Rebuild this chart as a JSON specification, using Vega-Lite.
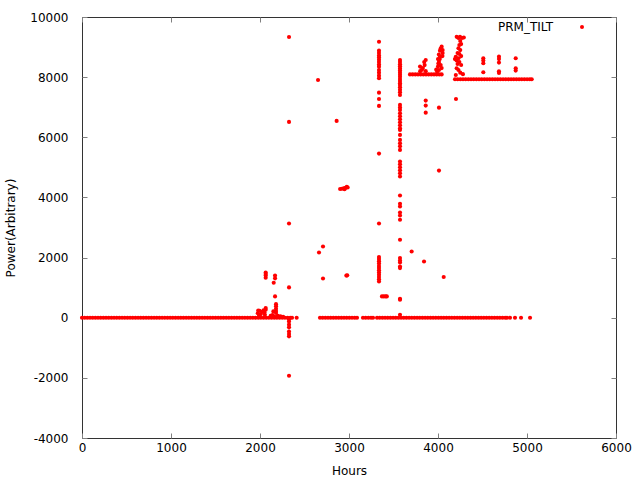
{
"$schema": "https://vega.github.io/schema/vega-lite/v6.json",
"width": 534, "height": 421,
"autosize": {"type": "none"},
"padding": {"left": 82, "top": 17, "right": 24, "bottom": 42},
"background": "white",
"config": {
 "view": {"stroke": "#333333", "strokeWidth": 1},
 "font": "DejaVu Sans",
 "axis": {"domain": false, "grid": false, "labelFlush": false, "tickColor": "#808080", "tickSize": -5, "labelFont": "DejaVu Sans", "labelFontSize": 12, "labelColor": "#000000", "titleFont": "DejaVu Sans", "titleFontSize": 12, "titleFontWeight": "normal", "titleColor": "#000000"},
 "legend": {"padding": 0, "labelFont": "DejaVu Sans", "labelFontSize": 12, "labelColor": "#000000", "labelAlign": "left", "labelOffset": -90, "symbolOffset": 83, "symbolType": "circle", "symbolSize": 16, "symbolStrokeWidth": 0, "symbolFillColor": "#ff0000"}
},
"data": {"values": [
{"hours":0,"power":0},{"hours":30,"power":0},{"hours":60,"power":0},{"hours":90,"power":0},{"hours":120,"power":0},{"hours":150,"power":0},{"hours":180,"power":0},{"hours":210,"power":0},{"hours":240,"power":0},{"hours":270,"power":0},{"hours":300,"power":0},{"hours":330,"power":0},{"hours":360,"power":0},{"hours":390,"power":0},{"hours":420,"power":0},{"hours":450,"power":0},{"hours":480,"power":0},{"hours":510,"power":0},{"hours":540,"power":0},{"hours":570,"power":0},{"hours":600,"power":0},{"hours":630,"power":0},{"hours":660,"power":0},{"hours":690,"power":0},{"hours":720,"power":0},{"hours":750,"power":0},{"hours":780,"power":0},{"hours":810,"power":0},{"hours":840,"power":0},{"hours":870,"power":0},{"hours":900,"power":0},{"hours":930,"power":0},{"hours":960,"power":0},{"hours":990,"power":0},{"hours":1020,"power":0},{"hours":1050,"power":0},{"hours":1080,"power":0},{"hours":1110,"power":0},{"hours":1140,"power":0},{"hours":1170,"power":0},{"hours":1200,"power":0},{"hours":1230,"power":0},{"hours":1260,"power":0},{"hours":1290,"power":0},{"hours":1320,"power":0},{"hours":1350,"power":0},{"hours":1380,"power":0},{"hours":1410,"power":0},{"hours":1440,"power":0},{"hours":1470,"power":0},{"hours":1500,"power":0},{"hours":1530,"power":0},{"hours":1560,"power":0},{"hours":1590,"power":0},{"hours":1620,"power":0},{"hours":1650,"power":0},{"hours":1680,"power":0},{"hours":1710,"power":0},{"hours":1740,"power":0},{"hours":1770,"power":0},{"hours":1800,"power":0},{"hours":1830,"power":0},{"hours":1860,"power":0},{"hours":1890,"power":0},{"hours":1920,"power":0},{"hours":1950,"power":0},{"hours":1980,"power":0},{"hours":2010,"power":0},{"hours":2040,"power":0},{"hours":2070,"power":0},{"hours":2100,"power":0},{"hours":2130,"power":0},{"hours":2160,"power":0},{"hours":2190,"power":0},{"hours":2220,"power":0},{"hours":2250,"power":0},{"hours":2280,"power":0},{"hours":2310,"power":0},{"hours":2340,"power":0},{"hours":2360,"power":0},{"hours":2412,"power":0},
{"hours":1975,"power":150},{"hours":1995,"power":230},{"hours":2010,"power":120},{"hours":2025,"power":200},{"hours":2040,"power":250},{"hours":2055,"power":100},{"hours":1990,"power":80},{"hours":2050,"power":180},{"hours":1980,"power":240},{"hours":2064,"power":322},{"hours":2064,"power":266},
{"hours":2064,"power":1500},{"hours":2064,"power":1450},{"hours":2064,"power":1400},{"hours":2064,"power":1330},{"hours":2169,"power":1400},{"hours":2169,"power":1310},{"hours":2154,"power":1163},{"hours":2169,"power":708},{"hours":2326,"power":1007},
{"hours":2180,"power":450},{"hours":2180,"power":380},{"hours":2180,"power":300},{"hours":2180,"power":220},{"hours":2180,"power":160},{"hours":2150,"power":210},
{"hours":2120,"power":60},{"hours":2140,"power":90},{"hours":2160,"power":40},{"hours":2200,"power":60},{"hours":2230,"power":50},{"hours":2260,"power":30},
{"hours":2326,"power":-50},{"hours":2326,"power":-130},{"hours":2326,"power":-230},{"hours":2326,"power":-320},{"hours":2326,"power":-460},{"hours":2326,"power":-540},{"hours":2326,"power":-620},{"hours":2326,"power":-1930},
{"hours":2326,"power":9335},{"hours":2326,"power":6511},{"hours":2326,"power":3133},
{"hours":2652,"power":7906},{"hours":2663,"power":2169},{"hours":2708,"power":2369},{"hours":2708,"power":1306},{"hours":2861,"power":6544},
{"hours":2900,"power":4280},{"hours":2920,"power":4290},{"hours":2940,"power":4300},{"hours":2960,"power":4320},{"hours":2975,"power":4350},{"hours":2985,"power":4330},{"hours":2950,"power":4270},
{"hours":2970,"power":1400},{"hours":2980,"power":1410},
{"hours":2674,"power":0},{"hours":2704,"power":0},{"hours":2734,"power":0},{"hours":2764,"power":0},{"hours":2794,"power":0},{"hours":2824,"power":0},{"hours":2854,"power":0},{"hours":2884,"power":0},{"hours":2914,"power":0},{"hours":2944,"power":0},{"hours":2974,"power":0},{"hours":3004,"power":0},{"hours":3034,"power":0},{"hours":3064,"power":0},{"hours":3090,"power":0},
{"hours":3157,"power":0},{"hours":3187,"power":0},{"hours":3217,"power":0},{"hours":3247,"power":0},{"hours":3270,"power":0},
{"hours":3315,"power":0},{"hours":3345,"power":0},{"hours":3375,"power":0},{"hours":3405,"power":0},{"hours":3435,"power":0},{"hours":3465,"power":0},{"hours":3495,"power":0},{"hours":3525,"power":0},{"hours":3555,"power":0},{"hours":3585,"power":0},{"hours":3615,"power":0},{"hours":3645,"power":0},{"hours":3675,"power":0},{"hours":3705,"power":0},{"hours":3735,"power":0},{"hours":3765,"power":0},{"hours":3795,"power":0},{"hours":3825,"power":0},{"hours":3855,"power":0},{"hours":3885,"power":0},{"hours":3915,"power":0},{"hours":3945,"power":0},{"hours":3975,"power":0},{"hours":4005,"power":0},{"hours":4035,"power":0},{"hours":4065,"power":0},{"hours":4095,"power":0},{"hours":4125,"power":0},{"hours":4155,"power":0},{"hours":4185,"power":0},{"hours":4215,"power":0},{"hours":4245,"power":0},{"hours":4275,"power":0},{"hours":4305,"power":0},{"hours":4335,"power":0},{"hours":4365,"power":0},{"hours":4395,"power":0},{"hours":4425,"power":0},{"hours":4455,"power":0},{"hours":4485,"power":0},{"hours":4515,"power":0},{"hours":4545,"power":0},{"hours":4575,"power":0},{"hours":4605,"power":0},{"hours":4635,"power":0},{"hours":4665,"power":0},{"hours":4695,"power":0},{"hours":4725,"power":0},{"hours":4755,"power":0},{"hours":4775,"power":0},{"hours":4809,"power":0},{"hours":4865,"power":0},{"hours":4933,"power":0},{"hours":5034,"power":0},
{"hours":3337,"power":9179},{"hours":3337,"power":8880},{"hours":3337,"power":8800},{"hours":3337,"power":8720},{"hours":3337,"power":8650},{"hours":3337,"power":8580},{"hours":3337,"power":8500},{"hours":3337,"power":8420},{"hours":3337,"power":8348},{"hours":3337,"power":8239},{"hours":3337,"power":8150},{"hours":3337,"power":8050},{"hours":3337,"power":7963},{"hours":3337,"power":7485},{"hours":3337,"power":7275},{"hours":3337,"power":7043},{"hours":3337,"power":5458},{"hours":3337,"power":3133},{"hours":3337,"power":2016},{"hours":3337,"power":1950},{"hours":3337,"power":1880},{"hours":3337,"power":1800},{"hours":3337,"power":1720},{"hours":3337,"power":1650},{"hours":3337,"power":1580},{"hours":3337,"power":1500},{"hours":3337,"power":1430},{"hours":3337,"power":1350},{"hours":3337,"power":1280},{"hours":3337,"power":1206},
{"hours":3370,"power":708},{"hours":3390,"power":708},{"hours":3410,"power":708},{"hours":3425,"power":708},
{"hours":3573,"power":8571},{"hours":3573,"power":8500},{"hours":3573,"power":8430},{"hours":3573,"power":8360},{"hours":3573,"power":8290},{"hours":3573,"power":8220},{"hours":3573,"power":8150},{"hours":3573,"power":8080},{"hours":3573,"power":8010},{"hours":3573,"power":7940},{"hours":3573,"power":7870},{"hours":3573,"power":7800},{"hours":3573,"power":7740},{"hours":3573,"power":7660},{"hours":3573,"power":7580},{"hours":3573,"power":7500},{"hours":3573,"power":7408},{"hours":3573,"power":7076},{"hours":3573,"power":6990},{"hours":3573,"power":6910},{"hours":3573,"power":6800},{"hours":3573,"power":6700},{"hours":3573,"power":6600},{"hours":3573,"power":6500},{"hours":3573,"power":6400},{"hours":3573,"power":6300},{"hours":3573,"power":6246},{"hours":3573,"power":6079},{"hours":3573,"power":5913},{"hours":3573,"power":5800},{"hours":3573,"power":5700},{"hours":3573,"power":5581},{"hours":3573,"power":5192},{"hours":3573,"power":5100},{"hours":3573,"power":5000},{"hours":3573,"power":4900},{"hours":3573,"power":4800},{"hours":3573,"power":4694},{"hours":3573,"power":4063},{"hours":3573,"power":3787},{"hours":3573,"power":3700},{"hours":3573,"power":3500},{"hours":3573,"power":3400},{"hours":3573,"power":3256},{"hours":3573,"power":2591},{"hours":3573,"power":1983},{"hours":3573,"power":1900},{"hours":3573,"power":1838},{"hours":3573,"power":1705},{"hours":3573,"power":1651},{"hours":3573,"power":631},{"hours":3573,"power":600},{"hours":3573,"power":100},
{"hours":3685,"power":8090},{"hours":3715,"power":8090},{"hours":3745,"power":8090},{"hours":3775,"power":8090},{"hours":3805,"power":8090},{"hours":3835,"power":8090},{"hours":3865,"power":8090},{"hours":3895,"power":8090},{"hours":3925,"power":8090},{"hours":3955,"power":8090},{"hours":3985,"power":8090},{"hours":4015,"power":8090},{"hours":4041,"power":8090},
{"hours":3862,"power":8571},{"hours":3798,"power":8350},{"hours":3830,"power":8300},{"hours":3862,"power":8200},{"hours":3820,"power":8250},{"hours":3850,"power":8400},{"hours":3845,"power":8500},{"hours":3800,"power":8200},
{"hours":3862,"power":7220},{"hours":3862,"power":7053},{"hours":3862,"power":6820},{"hours":4011,"power":6986},
{"hours":4041,"power":9013},{"hours":4030,"power":8950},{"hours":4022,"power":8880},{"hours":4052,"power":8800},{"hours":4010,"power":8750},{"hours":4022,"power":8680},{"hours":4000,"power":8600},{"hours":4011,"power":8500},{"hours":4030,"power":8400},{"hours":4000,"power":8350},{"hours":4011,"power":8239},{"hours":3990,"power":8180},{"hours":4041,"power":8300},{"hours":4050,"power":8700},{"hours":4020,"power":8600},{"hours":3980,"power":8250},{"hours":4052,"power":8900},{"hours":4004,"power":8450},
{"hours":4011,"power":4893},{"hours":3704,"power":2203},{"hours":3843,"power":1870},{"hours":4064,"power":1352},
{"hours":4247,"power":9345},{"hours":4230,"power":9300},{"hours":4270,"power":9300},{"hours":4290,"power":9320},{"hours":4210,"power":9340},{"hours":4250,"power":9200},{"hours":4260,"power":9100},{"hours":4240,"power":9069},{"hours":4230,"power":8960},{"hours":4250,"power":8900},{"hours":4220,"power":8800},{"hours":4240,"power":8771},{"hours":4260,"power":8700},{"hours":4230,"power":8627},{"hours":4210,"power":8550},{"hours":4240,"power":8500},{"hours":4220,"power":8438},{"hours":4260,"power":8405},{"hours":4210,"power":8295},{"hours":4230,"power":8239},{"hours":4250,"power":8150},{"hours":4200,"power":8073},{"hours":4280,"power":8100},{"hours":4190,"power":8600},{"hours":4200,"power":8680},{"hours":4202,"power":7275},
{"hours":4191,"power":7930},{"hours":4221,"power":7930},{"hours":4251,"power":7930},{"hours":4281,"power":7930},{"hours":4311,"power":7930},{"hours":4341,"power":7930},{"hours":4371,"power":7930},{"hours":4401,"power":7930},{"hours":4431,"power":7930},{"hours":4461,"power":7930},{"hours":4491,"power":7930},{"hours":4521,"power":7930},{"hours":4551,"power":7930},{"hours":4581,"power":7930},{"hours":4611,"power":7930},{"hours":4641,"power":7930},{"hours":4671,"power":7930},{"hours":4701,"power":7930},{"hours":4731,"power":7930},{"hours":4761,"power":7930},{"hours":4791,"power":7930},{"hours":4821,"power":7930},{"hours":4851,"power":7930},{"hours":4881,"power":7930},{"hours":4911,"power":7930},{"hours":4941,"power":7930},{"hours":4971,"power":7930},{"hours":5001,"power":7930},{"hours":5031,"power":7930},{"hours":5053,"power":7930},
{"hours":4509,"power":8627},{"hours":4509,"power":8550},{"hours":4509,"power":8461},{"hours":4509,"power":8162},
{"hours":4685,"power":8682},{"hours":4685,"power":8600},{"hours":4685,"power":8483},{"hours":4685,"power":8195},{"hours":4685,"power":8140},
{"hours":4873,"power":8627},{"hours":4873,"power":8295},{"hours":4873,"power":8217}
]},
"layer": [
 {
  "mark": {"type": "point", "filled": true, "opacity": 1, "size": 17, "strokeWidth": 0},
  "encoding": {
   "x": {"field": "hours", "type": "quantitative", "scale": {"domain": [0, 6000], "nice": false, "zero": false},
         "axis": {"orient": "bottom", "title": "Hours", "values": [0,1000,2000,3000,4000,5000,6000], "labelExpr": "'' + datum.value", "labelPadding": 9, "titlePadding": 12}},
   "y": {"field": "power", "type": "quantitative", "scale": {"domain": [-4000, 10000], "nice": false, "zero": false},
         "axis": {"orient": "left", "title": "Power(Arbitrary)", "values": [-4000,-2000,0,2000,4000,6000,8000,10000], "labelExpr": "'' + datum.value", "labelPadding": 19, "titlePadding": 12}},
   "color": {"datum": "PRM_TILT", "type": "nominal", "scale": {"range": ["#ff0000"]},
             "legend": {"title": null, "orient": "none", "legendX": 411, "legendY": 4}}
  }
 },
 {
  "mark": {"type": "point", "filled": true, "opacity": 0, "size": 1},
  "encoding": {
   "x": {"field": "hours", "type": "quantitative", "axis": {"orient": "top", "title": null, "labels": false, "values": [0,1000,2000,3000,4000,5000,6000]}},
   "y": {"field": "power", "type": "quantitative", "axis": {"orient": "right", "title": null, "labels": false, "values": [-4000,-2000,0,2000,4000,6000,8000,10000]}}
  }
 }
]
}
